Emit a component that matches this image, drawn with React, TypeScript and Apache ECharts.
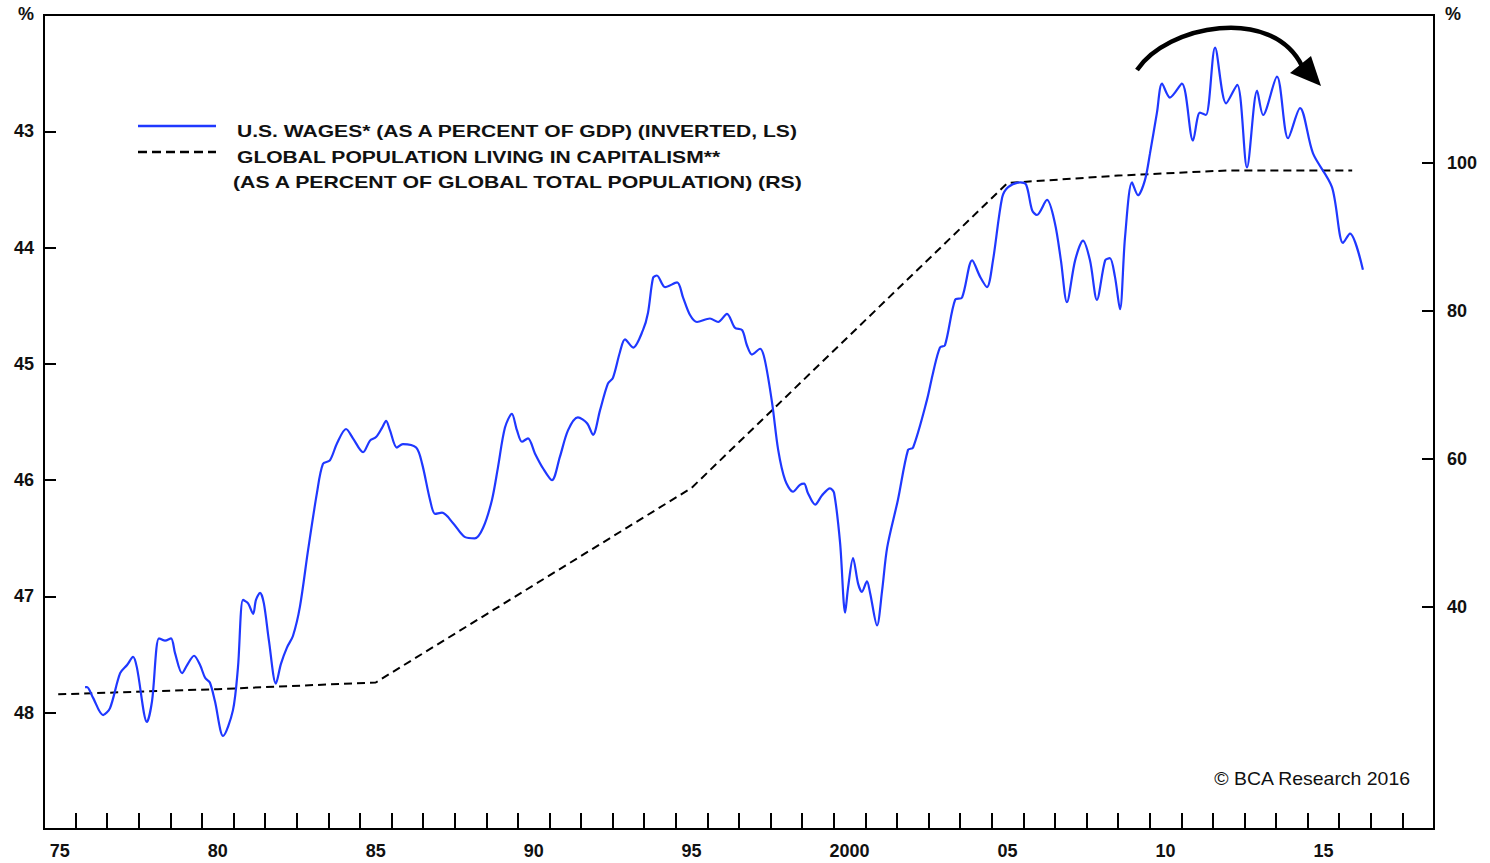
import React, { useEffect, useRef } from 'react';
import * as echarts from 'echarts';

// U.S. wages as % of GDP (left axis, inverted)
const wageYears = [
  1976.30, 1976.36, 1976.55, 1976.87, 1977.09, 1977.41, 1977.63, 1977.82, 1977.94, 1978.26,
  1978.42, 1978.64, 1978.83, 1979.02, 1979.15, 1979.37, 1979.53, 1979.75, 1979.94, 1980.10,
  1980.25, 1980.41, 1980.67, 1980.98, 1981.14, 1981.30, 1981.46, 1981.62, 1981.71, 1981.84,
  1981.96, 1982.12, 1982.34, 1982.50, 1982.69, 1982.88, 1983.10, 1983.36, 1983.64, 1983.83,
  1984.05, 1984.28, 1984.56, 1984.78, 1985.10, 1985.32, 1985.51, 1985.70, 1985.83, 1985.95,
  1986.17, 1986.36, 1986.78, 1986.97, 1987.22, 1987.38, 1987.60, 1987.95, 1988.33, 1988.64,
  1988.90, 1989.18, 1989.37, 1989.59, 1989.81, 1989.97, 1990.13, 1990.32, 1990.54, 1990.80,
  1991.08, 1991.33, 1991.59, 1991.90, 1992.19, 1992.38, 1992.60, 1992.85, 1993.01, 1993.23,
  1993.39, 1993.65, 1993.96, 1994.12, 1994.28, 1994.40, 1994.66, 1995.04, 1995.23, 1995.45,
  1995.67, 1996.08, 1996.34, 1996.62, 1996.87, 1997.10, 1997.25, 1997.41, 1997.67, 1997.82,
  1998.05, 1998.24, 1998.46, 1998.71, 1998.93, 1999.06, 1999.18, 1999.41, 1999.63, 1999.88,
  2000.01, 2000.20, 2000.36, 2000.45, 2000.61, 2000.77, 2000.89, 2001.05, 2001.15, 2001.37,
  2001.53, 2001.69, 2002.03, 2002.35, 2002.51, 2002.95, 2003.14, 2003.36, 2003.52, 2003.84,
  2004.06, 2004.38, 2004.63, 2004.85, 2005.04, 2005.33, 2005.52, 2005.90, 2006.09, 2006.28,
  2006.43, 2006.75, 2007.00, 2007.19, 2007.38, 2007.64, 2007.89, 2008.11, 2008.33, 2008.59,
  2008.74, 2008.90, 2009.06, 2009.22, 2009.44, 2009.63, 2009.85, 2010.01, 2010.23, 2010.39,
  2010.64, 2011.02, 2011.37, 2011.59, 2011.78, 2012.07, 2012.42, 2012.77, 2013.08, 2013.40,
  2013.59, 2014.03, 2014.38, 2014.76, 2015.17, 2015.77, 2016.12, 2016.34, 2016.75,
];
const wageValues = [
  47.78, 47.78, 47.87, 48.02, 47.96, 47.66, 47.59, 47.52, 47.61, 48.08,
  47.90, 47.36, 47.38, 47.36, 47.49, 47.66, 47.59, 47.51, 47.59, 47.70,
  47.74, 47.90, 48.20, 47.98, 47.61, 47.03, 47.06, 47.15, 47.03, 46.97,
  47.06, 47.38, 47.75, 47.58, 47.44, 47.34, 47.09, 46.60, 46.11, 45.86,
  45.83, 45.68, 45.56, 45.64, 45.76, 45.66, 45.63, 45.55, 45.49, 45.57,
  45.72, 45.69, 45.72, 45.86, 46.17, 46.29, 46.28, 46.37, 46.49, 46.50,
  46.41, 46.17, 45.89, 45.55, 45.43, 45.57, 45.67, 45.64, 45.77, 45.90,
  46.00, 45.80, 45.57, 45.46, 45.51, 45.61, 45.40, 45.17, 45.12, 44.90,
  44.79, 44.86, 44.71, 44.56, 44.26, 44.24, 44.34, 44.30, 44.43, 44.58,
  44.64, 44.61, 44.64, 44.57, 44.69, 44.71, 44.84, 44.92, 44.87, 44.97,
  45.34, 45.74, 46.00, 46.10, 46.04, 46.03, 46.11, 46.21, 46.13, 46.07,
  46.11, 46.54, 47.14, 46.93, 46.67, 46.89, 46.96, 46.87, 46.97, 47.25,
  46.95, 46.58, 46.17, 45.74, 45.72, 45.31, 45.08, 44.86, 44.84, 44.45,
  44.43, 44.11, 44.25, 44.34, 44.11, 43.57, 43.48, 43.44, 43.46, 43.68,
  43.72, 43.59, 43.79, 44.11, 44.47, 44.11, 43.94, 44.11, 44.45, 44.11,
  44.09, 44.25, 44.53, 43.91, 43.44, 43.55, 43.42, 43.19, 42.84, 42.59,
  42.71, 42.59, 43.08, 42.84, 42.86, 42.28, 42.76, 42.60, 43.31, 42.65,
  42.86, 42.53, 43.06, 42.80, 43.19, 43.48, 43.96, 43.88, 44.19,
];

// Global population living in capitalism, % of total (right axis)
const capYears = [1975.45, 1980.5, 1985.5, 1995.5, 2005.5, 2009.0, 2012.5, 2016.41];
const capValues = [28.2, 28.9, 29.8, 56.1, 97.3, 98.3, 99.0, 99.0];

// axis definitions
const yearCategories = Array.from({ length: 44 }, (_, i) => String(1975 + i));
const leftMin = 42;
const leftMax = 49;
const rightMin = 10;
const rightMax = 120;
const rightTicks = [40, 60, 80, 100];

const legendLine1 = 'U.S. WAGES* (AS A PERCENT OF GDP) (INVERTED, LS)';
const legendLine2 = 'GLOBAL POPULATION LIVING IN CAPITALISM**';
const legendLine3 = '(AS A PERCENT OF GLOBAL TOTAL POPULATION) (RS)';
const sourceText = '\u00A9 BCA Research 2016';

const FONT = '"Liberation Sans", Arial, Helvetica, sans-serif';
const BLUE = '#1f38ff';

export default function App() {
  const ref = useRef<HTMLDivElement>(null);

  useEffect(() => {
    if (!ref.current) return;
    const chart = echarts.init(ref.current, undefined, { renderer: 'svg' });
    const wageData = wageYears.map((y, i) => [y, wageValues[i]]);
    const capData = capYears.map((y, i) => [y, capValues[i]]);

    const labelStyle = { fontFamily: FONT, fontWeight: 'bold' as const, fontSize: 18, color: '#111' };

    chart.setOption({
      animation: false,
      backgroundColor: '#fff',
      grid: {
        left: 44, right: 56, top: 15, bottom: 34,
        show: true, borderColor: '#000', borderWidth: 2, backgroundColor: 'transparent',
      },
      xAxis: [
        {
          type: 'category',
          data: yearCategories,
          boundaryGap: true,
          axisLine: { show: true, lineStyle: { color: '#000', width: 2 } },
          axisTick: { show: true, inside: true, length: 16, interval: 0, lineStyle: { color: '#000', width: 2 } },
          axisLabel: {
            ...labelStyle,
            margin: 13,
            interval: (index: number) => index % 5 === 0,
            formatter: (v: string) => (v === '2000' ? v : v.slice(2)),
          },
          splitLine: { show: false },
        },
        {
          type: 'value',
          min: 1975,
          max: 2019,
          show: false,
        },
      ],
      yAxis: [
        {
          type: 'value',
          inverse: true,
          min: leftMin,
          max: leftMax,
          interval: 1,
          position: 'left',
          axisLine: { show: true, lineStyle: { color: '#000', width: 2 } },
          axisTick: { show: true, inside: true, length: 12, lineStyle: { color: '#000', width: 2 } },
          axisLabel: { ...labelStyle, margin: 10, showMinLabel: false, showMaxLabel: false },
          splitLine: { show: false },
        },
        {
          type: 'value',
          min: rightMin,
          max: rightMax,
          position: 'right',
          axisLine: { show: true, lineStyle: { color: '#000', width: 2 } },
          axisTick: { show: true, inside: true, length: 12, customValues: rightTicks, lineStyle: { color: '#000', width: 2 } },
          axisLabel: { ...labelStyle, margin: 13, customValues: rightTicks },
          splitLine: { show: false },
        },
      ],
      series: [
        {
          name: 'capitalism',
          type: 'line',
          xAxisIndex: 1,
          yAxisIndex: 1,
          data: capData,
          showSymbol: false,
          lineStyle: { color: '#000', width: 2, type: [8, 5] },
          z: 3,
        },
        {
          name: 'wages',
          type: 'line',
          xAxisIndex: 1,
          yAxisIndex: 0,
          data: wageData,
          smooth: 0.3,
          showSymbol: false,
          lineStyle: { color: BLUE, width: 2.2 },
          z: 4,
        },
      ],
      graphic: [
        { type: 'text', left: 18, top: 5, style: { text: '%', font: `bold 18px ${FONT}`, fill: '#111' } },
        { type: 'text', left: 1445, top: 5, style: { text: '%', font: `bold 18px ${FONT}`, fill: '#111' } },
        { type: 'line', shape: { x1: 138, y1: 126, x2: 216, y2: 126 }, style: { stroke: BLUE, lineWidth: 2.6 } },
        { type: 'line', shape: { x1: 138, y1: 152, x2: 216, y2: 152 }, style: { stroke: '#000', lineWidth: 2.4, lineDash: [9, 5] } },
        { type: 'text', x: 237, y: 131, scaleX: 1.24, style: { text: legendLine1, font: `bold 17px ${FONT}`, fill: '#111', verticalAlign: 'middle' } },
        { type: 'text', x: 237, y: 157, scaleX: 1.24, style: { text: legendLine2, font: `bold 17px ${FONT}`, fill: '#111', verticalAlign: 'middle' } },
        { type: 'text', x: 233, y: 182, scaleX: 1.25, style: { text: legendLine3, font: `bold 17px ${FONT}`, fill: '#111', verticalAlign: 'middle' } },
        { type: 'text', x: 1410, y: 779, scaleX: 1.08, style: { text: sourceText, font: `18px ${FONT}`, fill: '#111', align: 'right', verticalAlign: 'middle' } },
        {
          type: 'bezierCurve',
          shape: { x1: 1137, y1: 70, cpx1: 1167, cpy1: 25, cpx2: 1272, cpy2: 5, x2: 1302, y2: 66 },
          style: { stroke: '#000', lineWidth: 4.5, fill: null },
        },
        {
          type: 'polygon',
          shape: { points: [[1321, 86], [1290, 73], [1311, 56]] },
          style: { fill: '#000' },
        },
      ],
    });
    return () => chart.dispose();
  }, []);

  return <div ref={ref} style={{ position: 'absolute', left: 0, top: 0, width: 1490, height: 863 }} />;
}
